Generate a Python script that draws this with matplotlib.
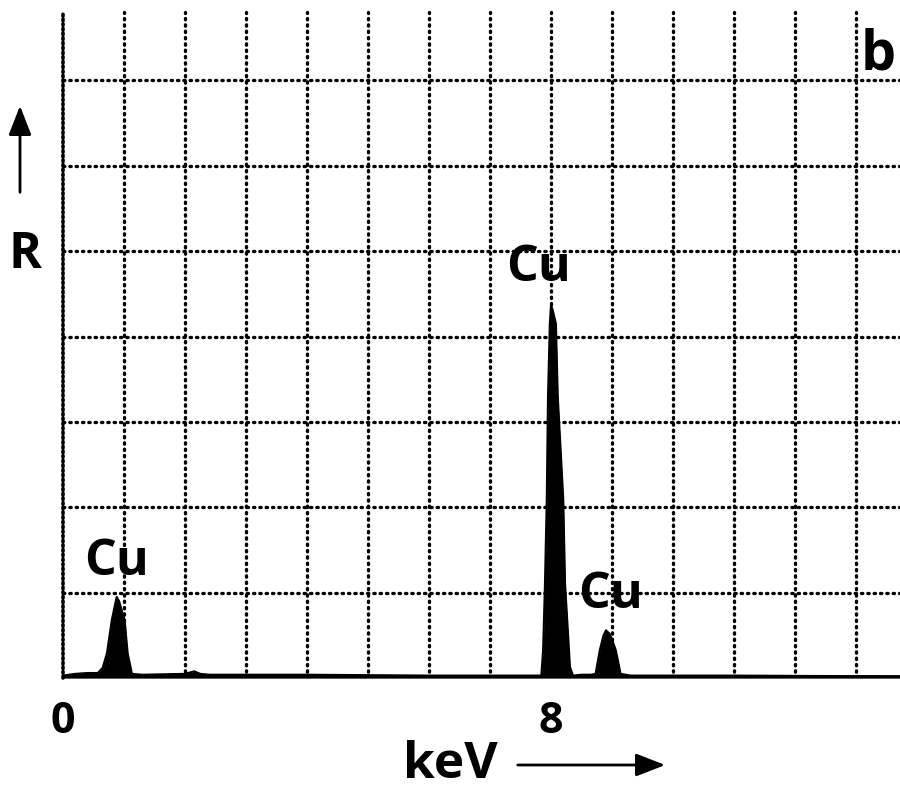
import matplotlib.pyplot as plt
from matplotlib.patches import FancyArrowPatch

# EDX spectrum (energy in keV, counts in grid divisions)
energy = [0.0, 0.2, 0.4, 0.57, 0.65, 0.72, 0.80, 0.85, 0.88, 0.92, 1.01, 1.06, 1.13,
          1.3, 2.0, 2.15, 2.25, 2.4, 4.0, 6.0, 7.5, 7.84, 7.87, 7.90, 7.93, 7.95,
          7.98, 8.0, 8.03, 8.08, 8.11, 8.20, 8.23, 8.28, 8.31, 8.36, 8.5, 8.65,
          8.73, 8.80, 8.86, 8.90, 8.96, 9.0, 9.06, 9.14, 9.3, 11.0, 13.8]
counts = [0.03, 0.05, 0.06, 0.06, 0.12, 0.29, 0.68, 0.85, 0.95, 0.90, 0.68, 0.29, 0.05,
          0.04, 0.05, 0.08, 0.05, 0.04, 0.04, 0.03, 0.03, 0.03, 0.33, 1.1, 2.1, 3.3,
          4.15, 4.37, 4.3, 4.15, 3.3, 2.1, 1.1, 0.5, 0.13, 0.03, 0.04, 0.04,
          0.05, 0.33, 0.5, 0.56, 0.52, 0.45, 0.33, 0.05, 0.03, 0.03, 0.02]

peak_labels = ["Cu", "Cu", "Cu"]
label_x = [0.88, 7.8, 8.97]
label_y = [1.36, 4.8, 0.97]
tick_pos = [0, 8]
tick_text = ["0", "8"]

font = "Open Sans"

fig = plt.figure(figsize=(9, 7.95), dpi=100)
ax = fig.add_axes([0.07, 0.147, 0.93, 0.853])
ax.set_xlim(0, 13.72)
ax.set_ylim(0, 7.94)

# dotted grid
for gx in range(1, 14):
    ax.plot([gx, gx], [0, 7.8], color="black", lw=2.4, ls=(0, (0.4, 1.5)),
            dash_capstyle="round", zorder=1)
for gy in range(1, 8):
    ax.plot([0, 13.72], [gy, gy], color="black", lw=2.4, ls=(0, (0.4, 1.5)),
            dash_capstyle="round", zorder=1)
ax.plot([0, 0], [0, 7.8], color="black", lw=2.6, ls=(0, (0.5, 0.8)),
        dash_capstyle="round", zorder=1, clip_on=False)

# spectrum
ax.fill_between(energy, 0, counts, color="black", lw=0, zorder=3)
ax.plot(energy, counts, color="black", lw=1.5, zorder=3)
ax.axhline(0.0, color="black", lw=4, zorder=3)

for lab, lx, ly in zip(peak_labels, label_x, label_y):
    ax.text(lx, ly, lab, ha="center", va="center", fontsize=36,
            fontweight="bold", family=font, zorder=4)

for s in ax.spines.values():
    s.set_visible(False)
ax.set_xticks(tick_pos)
ax.set_xticklabels(tick_text, fontsize=31, fontweight="bold", family=font)
ax.tick_params(axis="x", length=0, pad=16)
ax.set_yticks([])

# axis captions with arrows
fig.text(25 / 900, 1 - 255 / 795, "R", ha="center", va="center", fontsize=36,
         fontweight="bold", family=font)
fig.add_artist(FancyArrowPatch(
    (20 / 900, 1 - 195 / 795), (20 / 900, 1 - 103 / 795), transform=fig.transFigure,
    arrowstyle="-|>,head_length=0.9,head_width=0.35", mutation_scale=20,
    color="black", lw=2))
fig.text(450 / 900, 1 - 765 / 795, "keV", ha="center", va="center", fontsize=37,
         fontweight="bold", family=font)
fig.add_artist(FancyArrowPatch(
    (515 / 900, 1 - 765 / 795), (668 / 900, 1 - 765 / 795), transform=fig.transFigure,
    arrowstyle="-|>,head_length=0.9,head_width=0.35", mutation_scale=20,
    color="black", lw=2))
fig.text(878 / 900, 1 - 55 / 795, "b", ha="center", va="center", fontsize=40,
         fontweight="bold", family=font)

fig.savefig("out.png", dpi=100, facecolor="white")
